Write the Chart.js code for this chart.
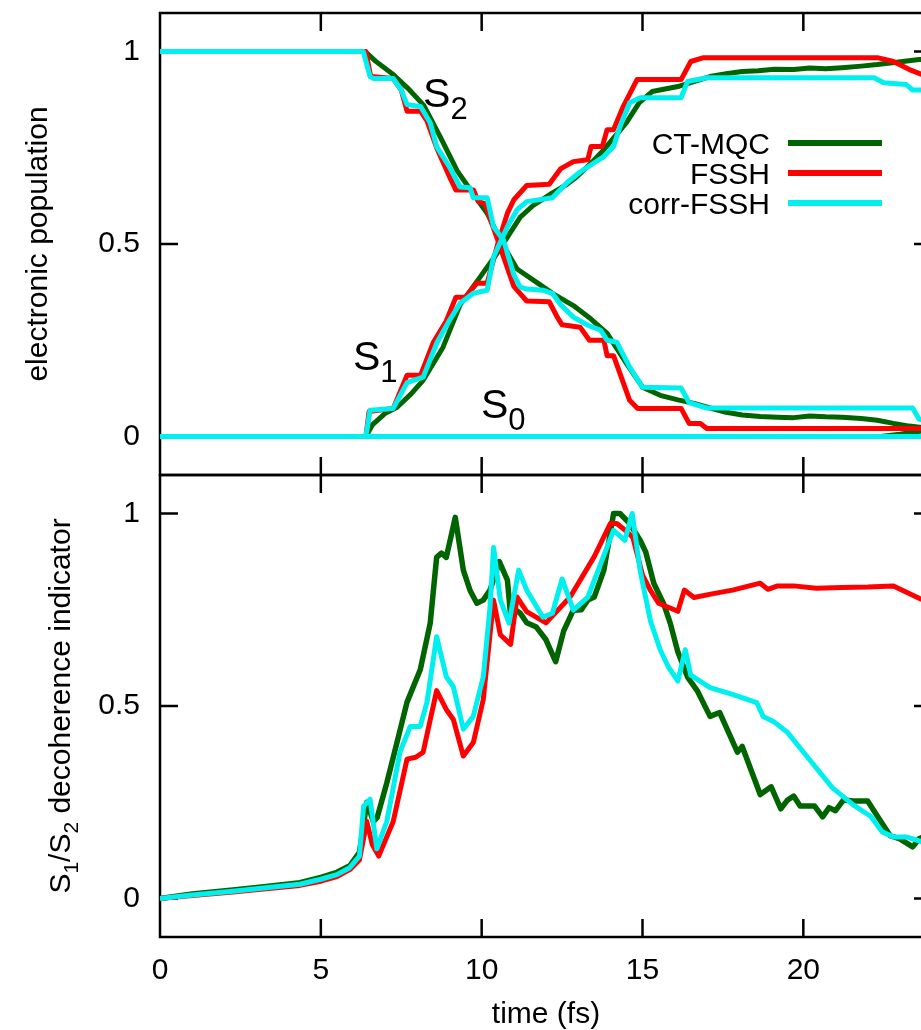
<!DOCTYPE html>
<html>
<head>
<meta charset="utf-8">
<script src="https://cdn.jsdelivr.net/npm/chart.js@4.4.1/dist/chart.umd.min.js"></script>
<style>
html, body { margin: 0; padding: 0; background: #fff; overflow: hidden; }
#wrap { position: relative; width: 921px; height: 1030px; overflow: hidden; background: #fff; }
#top { position: absolute; left: 0; top: 0; }
#bottom { position: absolute; left: 0; top: 470px; }
</style>
</head>
<body>
<div id="wrap">
  <canvas id="top" width="960" height="480"></canvas>
  <canvas id="bottom" width="960" height="560"></canvas>
</div>
<script>
const FONT = '"Liberation Sans", Arial, Helvetica, sans-serif';

const methods = ['CT-MQC', 'FSSH', 'corr-FSSH'];
const methodColors = ['#006400', '#ff0000', '#00f0f0'];
const timeTicks = [0, 5, 10, 15, 20];
const valueTicks = [0, 0.5, 1];

// electronic populations, [time (fs), population]
const ctmqcS2 = [[0, 1], [6.38, 1], [6.7, 0.975], [7.25, 0.94], [7.7, 0.905], [8.2, 0.86], [8.7, 0.78], [9.24, 0.69],
  [9.74, 0.63], [10.17, 0.58], [10.58, 0.51], [11.1, 0.435], [11.8, 0.395], [12.2, 0.372], [12.85, 0.34], [13.4, 0.305],
  [13.9, 0.268], [14.5, 0.19], [15.0, 0.128], [15.55, 0.107], [16.1, 0.095], [16.6, 0.086], [17.1, 0.074], [17.6, 0.063],
  [18.1, 0.056], [18.66, 0.052], [19.2, 0.05], [19.7, 0.049], [20.2, 0.053], [20.7, 0.051], [21.2, 0.05], [21.8, 0.047],
  [22.3, 0.042], [22.8, 0.034], [23.3, 0.027], [24, 0.02]];
const fsshS2 = [[0, 1], [6.4, 1], [6.55, 0.935], [7.25, 0.93], [7.5, 0.9], [7.68, 0.845], [8.1, 0.845], [8.3, 0.82],
  [8.6, 0.75], [9.0, 0.675], [9.2, 0.64], [9.75, 0.64], [9.9, 0.61], [10.1, 0.605], [10.5, 0.51], [11.0, 0.39],
  [11.4, 0.352], [12.1, 0.35], [12.35, 0.31], [12.5, 0.29], [13.06, 0.284], [13.35, 0.25], [13.8, 0.25], [13.9, 0.21],
  [14.1, 0.21], [14.6, 0.094], [14.85, 0.073], [16.2, 0.073], [16.45, 0.034], [16.8, 0.034], [17.0, 0.021], [24, 0.021]];
const corrS2 = [[0, 1], [6.32, 1], [6.53, 0.935], [6.63, 0.93], [7.25, 0.93], [7.5, 0.9], [7.68, 0.862], [8.1, 0.857],
  [8.4, 0.815], [8.6, 0.753], [9.0, 0.7], [9.33, 0.648], [9.64, 0.646], [9.74, 0.62], [10.17, 0.62], [10.37, 0.545],
  [10.68, 0.51], [11.0, 0.42], [11.2, 0.388], [11.4, 0.383], [11.9, 0.38], [12.2, 0.372], [12.45, 0.343], [12.85, 0.31],
  [13.3, 0.289], [13.7, 0.276], [13.9, 0.25], [14.2, 0.245], [14.6, 0.18], [15.0, 0.128], [16.2, 0.126], [16.45, 0.088],
  [17.0, 0.074], [23.4, 0.074], [23.6, 0.045], [24, 0.04]];

const ctmqcS1 = [[0, 0], [6.4, 0], [6.6, 0.03], [7.0, 0.06], [7.37, 0.076], [7.8, 0.11], [8.18, 0.146], [8.8, 0.232],
  [9.33, 0.342], [9.95, 0.414], [10.48, 0.476], [10.8, 0.518], [11.2, 0.57], [11.6, 0.6], [12.2, 0.633], [12.65, 0.655],
  [12.95, 0.674], [13.4, 0.71], [13.8, 0.745], [14.5, 0.815], [14.9, 0.867], [15.3, 0.896], [16.1, 0.909], [16.6, 0.922],
  [17.1, 0.935], [17.6, 0.942], [18.1, 0.948], [18.6, 0.95], [19.1, 0.954], [19.7, 0.953], [20.2, 0.957], [20.7, 0.955],
  [21.2, 0.958], [21.8, 0.962], [22.3, 0.966], [22.9, 0.972], [23.6, 0.979], [24, 0.98]];
const fsshS1 = [[0, 0], [6.4, 0], [6.5, 0.065], [7.25, 0.073], [7.68, 0.159], [8.1, 0.159], [8.5, 0.245], [8.9, 0.3],
  [9.2, 0.362], [9.5, 0.362], [9.85, 0.398], [10.17, 0.398], [10.5, 0.5], [10.8, 0.58], [11.0, 0.615], [11.4, 0.652],
  [12.1, 0.655], [12.45, 0.695], [12.85, 0.714], [13.3, 0.719], [13.4, 0.753], [13.75, 0.753], [13.9, 0.797],
  [14.1, 0.797], [14.4, 0.857], [14.83, 0.927], [16.2, 0.927], [16.5, 0.974], [16.9, 0.984], [22.3, 0.984],
  [22.8, 0.974], [23.3, 0.953], [24, 0.93]];
const corrS1 = [[0, 0], [6.4, 0], [6.53, 0.068], [7.25, 0.073], [7.68, 0.14], [8.18, 0.154], [8.6, 0.242], [9.0, 0.302],
  [9.33, 0.346], [9.74, 0.372], [10.17, 0.38], [10.37, 0.466], [10.8, 0.545], [11.1, 0.589], [11.4, 0.61], [12.2, 0.62],
  [12.65, 0.659], [13.06, 0.687], [13.5, 0.711], [13.8, 0.727], [14.1, 0.753], [14.3, 0.805], [14.6, 0.867],
  [14.93, 0.88], [16.2, 0.88], [16.4, 0.922], [17.0, 0.932], [22.2, 0.932], [22.5, 0.919], [23.2, 0.914], [23.4, 0.9],
  [24, 0.9]];

const ctmqcS0 = [[0, 0], [22.4, 0], [23.0, 0.006], [24, 0.018]];
const fsshS0 = [[0, 0], [24, 0]];
const corrS0 = [[0, 0], [24, 0]];

// S1/S2 decoherence indicator, [time (fs), value]
const ctmqcDeco = [[0, 0], [1, 0.012], [2.27, 0.022], [3.3, 0.031], [4.35, 0.041], [5.0, 0.055], [5.5, 0.068],
  [5.9, 0.085], [6.2, 0.12], [6.43, 0.25], [6.63, 0.2], [6.75, 0.21], [7.05, 0.3], [7.37, 0.406], [7.68, 0.51],
  [8.09, 0.594], [8.4, 0.715], [8.6, 0.886], [8.75, 0.897], [8.9, 0.886], [9.18, 0.99], [9.43, 0.853], [9.64, 0.8],
  [9.85, 0.767], [10.05, 0.775], [10.26, 0.801], [10.55, 0.875], [10.8, 0.827], [10.9, 0.735], [11.05, 0.75],
  [11.2, 0.741], [11.4, 0.716], [11.7, 0.705], [12.0, 0.672], [12.3, 0.615], [12.55, 0.695], [12.85, 0.749],
  [13.1, 0.75], [13.3, 0.775], [13.5, 0.783], [13.8, 0.853], [14.0, 0.95], [14.1, 1.0], [14.3, 1.0], [14.6, 0.974],
  [14.93, 0.93], [15.1, 0.9], [15.35, 0.819], [15.65, 0.767], [15.86, 0.716], [16.1, 0.64], [16.4, 0.575],
  [16.7, 0.54], [17.1, 0.473], [17.4, 0.483], [17.95, 0.38], [18.1, 0.395], [18.66, 0.27], [19.0, 0.29],
  [19.3, 0.233], [19.5, 0.255], [19.7, 0.266], [19.9, 0.24], [20.35, 0.24], [20.6, 0.212], [20.8, 0.236],
  [21.0, 0.228], [21.25, 0.256], [21.55, 0.253], [22.0, 0.253], [22.3, 0.214], [22.7, 0.163], [23.0, 0.155],
  [23.4, 0.134], [23.6, 0.155], [24, 0.17]];
const fsshDeco = [[0, 0], [1, 0.008], [2.27, 0.017], [3.3, 0.025], [4.35, 0.034], [5.0, 0.045], [5.5, 0.057],
  [5.9, 0.075], [6.2, 0.1], [6.43, 0.2], [6.6, 0.14], [6.8, 0.11], [7.25, 0.2], [7.68, 0.362], [7.95, 0.367],
  [8.18, 0.38], [8.6, 0.54], [8.9, 0.491], [9.12, 0.465], [9.43, 0.37], [9.74, 0.405], [10.05, 0.517], [10.37, 0.775],
  [10.58, 0.685], [10.9, 0.66], [11.1, 0.783], [11.4, 0.745], [12.0, 0.716], [12.75, 0.783], [13.5, 0.888],
  [14.0, 0.974], [14.2, 0.974], [14.5, 0.954], [14.7, 0.938], [15.0, 0.84], [15.25, 0.8], [15.5, 0.767],
  [16.1, 0.746], [16.3, 0.801], [16.6, 0.782], [17.2, 0.792], [17.8, 0.801], [18.66, 0.819], [18.9, 0.803],
  [19.2, 0.812], [19.7, 0.812], [20.4, 0.806], [21.2, 0.808], [22.0, 0.809], [22.8, 0.812], [23.6, 0.78], [24, 0.765]];
const corrDeco = [[0, 0], [1, 0.009], [2.27, 0.019], [3.3, 0.028], [4.35, 0.037], [5.0, 0.05], [5.5, 0.062],
  [5.9, 0.08], [6.2, 0.11], [6.33, 0.24], [6.53, 0.258], [6.74, 0.129], [7.05, 0.2], [7.46, 0.38], [7.78, 0.447],
  [8.09, 0.447], [8.3, 0.51], [8.6, 0.68], [8.9, 0.576], [9.12, 0.55], [9.43, 0.44], [9.74, 0.473], [10.05, 0.576],
  [10.26, 0.757], [10.37, 0.912], [10.58, 0.775], [10.85, 0.715], [11.15, 0.853], [11.4, 0.801], [11.9, 0.731],
  [12.2, 0.741], [12.5, 0.83], [12.85, 0.749], [13.3, 0.783], [13.7, 0.87], [14.1, 0.956], [14.45, 0.93],
  [14.68, 1.0], [14.93, 0.85], [15.25, 0.72], [15.55, 0.646], [15.8, 0.602], [16.1, 0.565], [16.33, 0.646],
  [16.5, 0.58], [17.1, 0.548], [17.8, 0.53], [18.55, 0.509], [18.75, 0.473], [19.07, 0.46], [19.5, 0.432],
  [20.1, 0.37], [20.9, 0.288], [21.55, 0.243], [22.1, 0.213], [22.45, 0.173], [22.8, 0.16], [23.2, 0.16],
  [23.7, 0.147], [24, 0.145]];

/**
 * Builds one line dataset; lower order is drawn on top
 */
function series(method, points, width) {
  const i = methods.indexOf(method);
  return {
    label: method,
    data: points.map(p => ({ x: p[0], y: p[1] })),
    borderColor: methodColors[i],
    borderWidth: width || 5,
    order: 3 - i,
    pointRadius: 0,
    tension: 0,
    fill: false,
    borderJoinStyle: 'round'
  };
}

/**
 * Draws text made of normal and subscript parts, optionally rotated
 */
function drawRich(ctx, parts, x, y, size, subSize, subShift, center, rotate) {
  ctx.save();
  ctx.translate(x, y);
  if (rotate) ctx.rotate(-Math.PI / 2);
  ctx.textAlign = 'left';
  ctx.textBaseline = 'alphabetic';
  ctx.fillStyle = '#000';
  const widths = parts.map(p => {
    ctx.font = (p.sub ? subSize : size) + 'px ' + FONT;
    return ctx.measureText(p.text).width;
  });
  let cx = center ? -widths.reduce((a, b) => a + b, 0) / 2 : 0;
  parts.forEach((p, i) => {
    ctx.font = (p.sub ? subSize : size) + 'px ' + FONT;
    ctx.fillText(p.text, cx, p.sub ? subShift : 0);
    cx += widths[i];
  });
  ctx.restore();
}

// gnuplot style border with inward ticks on all four sides
const framePlugin = {
  id: 'frame',
  beforeDatasetsDraw(chart) {
    const { ctx, chartArea: a, scales: { x, y } } = chart;
    const len = 18;
    ctx.save();
    ctx.strokeStyle = '#000';
    ctx.lineWidth = 2.5;
    ctx.beginPath();
    x.ticks.forEach(t => {
      const px = x.getPixelForValue(t.value);
      if (px <= a.left + 1 || px >= a.right - 1) return;
      ctx.moveTo(px, a.top);
      ctx.lineTo(px, a.top + len);
      ctx.moveTo(px, a.bottom);
      ctx.lineTo(px, a.bottom - len);
    });
    y.ticks.forEach(t => {
      const py = y.getPixelForValue(t.value);
      ctx.moveTo(a.left, py);
      ctx.lineTo(a.left + len, py);
      ctx.moveTo(a.right, py);
      ctx.lineTo(a.right - len, py);
    });
    ctx.stroke();
    ctx.strokeRect(a.left, a.top, a.right - a.left, a.bottom - a.top);
    ctx.restore();
  }
};

// rotated y axis title (with subscripts) and state labels
const textPlugin = {
  id: 'texts',
  afterDatasetsDraw(chart, args, opts) {
    const { ctx, chartArea: a, scales: { x, y } } = chart;
    drawRich(ctx, opts.yTitle, opts.yTitleX, (a.top + a.bottom) / 2, 30, 21, 8, true, true);
    (opts.states || []).forEach(s => {
      drawRich(ctx, [{ text: 'S' }, { text: s.sub, sub: true }],
        x.getPixelForValue(s.t), y.getPixelForValue(s.v), 41, 31, 12, false, false);
    });
  }
};

// key: right aligned names followed by line samples
const keyPlugin = {
  id: 'key',
  afterDatasetsDraw(chart, args, opts) {
    if (!opts.show) return;
    const { ctx } = chart;
    ctx.save();
    ctx.font = '30px ' + FONT;
    ctx.textAlign = 'right';
    ctx.textBaseline = 'alphabetic';
    methods.forEach((name, i) => {
      const yMid = opts.y + i * opts.step;
      ctx.fillStyle = '#000';
      ctx.fillText(name, opts.textRight, yMid + 11);
      ctx.strokeStyle = methodColors[i];
      ctx.lineWidth = 6;
      ctx.beginPath();
      ctx.moveTo(opts.lineLeft, yMid);
      ctx.lineTo(opts.lineRight, yMid);
      ctx.stroke();
    });
    ctx.restore();
  }
};

// fixed axis sizes, no extra room for overhanging tick labels
function fixSize(axis, w, h) {
  if (w !== null) axis.width = w;
  if (h !== null) axis.height = h;
  axis.paddingTop = 0;
  axis.paddingBottom = 0;
  axis.paddingLeft = 0;
  axis.paddingRight = 0;
}

function scales(showTime) {
  return {
    x: {
      type: 'linear',
      min: 0,
      max: 24,
      grid: { display: false, drawTicks: false },
      border: { display: false },
      afterBuildTicks: axis => { axis.ticks = timeTicks.map(v => ({ value: v })); },
      ticks: { display: showTime, autoSkip: false, maxRotation: 0, padding: 16, color: '#000', font: { family: FONT, size: 30 } },
      title: { display: showTime, text: 'time (fs)', color: '#000', padding: 0, font: { family: FONT, size: 30, lineHeight: 1 } },
      afterFit: axis => fixSize(axis, null, showTime ? 93 : 5)
    },
    y: {
      type: 'linear',
      min: -0.1,
      max: 1.1,
      grid: { display: false, drawTicks: false },
      border: { display: false },
      afterBuildTicks: axis => { axis.ticks = valueTicks.map(v => ({ value: v })); },
      ticks: {
        autoSkip: false,
        padding: 20,
        color: '#000',
        font: { family: FONT, size: 30 },
        callback: value => String(value)
      },
      afterFit: axis => fixSize(axis, 160, null)
    }
  };
}

function makeChart(id, datasets, padTop, showTime, textOpts, keyOpts) {
  return new Chart(document.getElementById(id), {
    type: 'line',
    data: { datasets: datasets },
    options: {
      responsive: false,
      animation: false,
      devicePixelRatio: 1,
      layout: { padding: { top: padTop, right: 28, bottom: 0, left: 0 } },
      scales: scales(showTime),
      plugins: {
        legend: { display: false },
        tooltip: { enabled: false },
        texts: textOpts,
        key: keyOpts
      }
    },
    plugins: [framePlugin, textPlugin, keyPlugin]
  });
}

makeChart('top', [
  series('CT-MQC', ctmqcS2), series('CT-MQC', ctmqcS1), series('CT-MQC', ctmqcS0),
  series('FSSH', fsshS2), series('FSSH', fsshS1), series('FSSH', fsshS0),
  series('corr-FSSH', corrS2), series('corr-FSSH', corrS1), series('corr-FSSH', corrS0)
], 13, false, {
  yTitle: [{ text: 'electronic population' }],
  yTitleX: 47,
  states: [{ sub: '2', t: 8.18, v: 0.857 }, { sub: '1', t: 6.0, v: 0.172 }, { sub: '0', t: 9.98, v: 0.049 }]
}, { show: true, y: 143, step: 30, textRight: 770, lineLeft: 788, lineRight: 882 });

makeChart('bottom', [
  series('CT-MQC', ctmqcDeco, 5.5), series('FSSH', fsshDeco), series('corr-FSSH', corrDeco)
], 5, true, {
  yTitle: [{ text: 'S' }, { text: '1', sub: true }, { text: '/S' }, { text: '2', sub: true }, { text: ' decoherence indicator' }],
  yTitleX: 70
}, { show: false });
</script>
</body>
</html>
